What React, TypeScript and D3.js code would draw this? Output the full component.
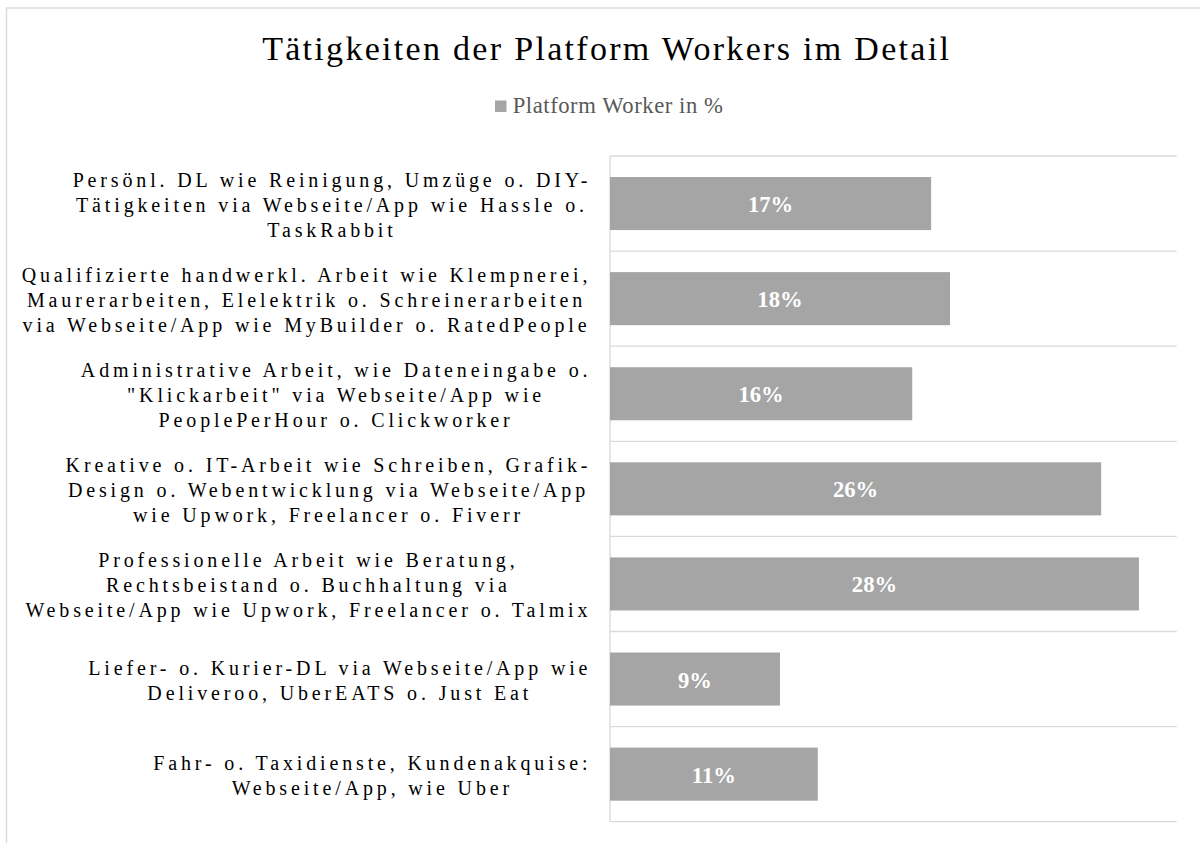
import React, { useEffect, useRef } from "react";
import * as d3 from "d3";

const title = "Tätigkeiten der Platform Workers im Detail";
const legendLabel = "Platform Worker in %";

const categories: string[][] = [
  ["Persönl. DL wie Reinigung, Umzüge o. DIY-", "Tätigkeiten via Webseite/App wie Hassle o.", "TaskRabbit"],
  ["Qualifizierte handwerkl. Arbeit wie Klempnerei,", "Maurerarbeiten, Elelektrik o. Schreinerarbeiten", "via Webseite/App wie MyBuilder o. RatedPeople"],
  ["Administrative Arbeit, wie Dateneingabe o.", "\"Klickarbeit\" via Webseite/App wie", "PeoplePerHour o. Clickworker"],
  ["Kreative o. IT-Arbeit wie Schreiben, Grafik-", "Design o. Webentwicklung via Webseite/App", "wie Upwork, Freelancer o. Fiverr"],
  ["Professionelle Arbeit wie Beratung,", "Rechtsbeistand o. Buchhaltung via", "Webseite/App wie Upwork, Freelancer o. Talmix"],
  ["Liefer- o. Kurier-DL via Webseite/App wie", "Deliveroo, UberEATS o. Just Eat"],
  ["Fahr- o. Taxidienste, Kundenakquise:", "Webseite/App, wie Uber"],
];

const values: number[] = [17, 18, 16, 26, 28, 9, 11];

const xDomain: [number, number] = [0, 30];

const FONT = "'Liberation Serif', 'Times New Roman', Times, serif";

export default function App() {
  const ref = useRef<SVGSVGElement | null>(null);

  useEffect(() => {
    const svg = d3.select(ref.current!);
    svg.selectAll("*").remove();

    const plotLeft = 610;
    const plotRight = 1176.7;
    const plotTop = 156;
    const plotBottom = 821.7;

    const x = d3.scaleLinear().domain(xDomain).range([plotLeft, plotRight]);
    const y = d3
      .scaleBand<number>()
      .domain(d3.range(values.length))
      .range([plotTop, plotBottom])
      .paddingInner(0.442)
      .paddingOuter(0.221);
    const step = y.step();

    // outer border
    svg
      .append("rect")
      .attr("x", 6.5)
      .attr("y", 8)
      .attr("width", 1220)
      .attr("height", 860)
      .attr("fill", "#ffffff")
      .attr("stroke", "#d9d9d9")
      .attr("stroke-width", 1.33);

    // title
    const titleLS = 2.3;
    svg
      .append("text")
      .attr("x", 605.5 + titleLS / 2)
      .attr("y", 60)
      .attr("text-anchor", "middle")
      .attr("font-family", FONT)
      .attr("font-size", 34)
      .attr("letter-spacing", titleLS)
      .attr("fill", "#000000")
      .text(title);

    // legend
    svg
      .append("rect")
      .attr("x", 495)
      .attr("y", 100.5)
      .attr("width", 11.5)
      .attr("height", 11.5)
      .attr("fill", "#a5a5a5");
    svg
      .append("text")
      .attr("x", 512.7)
      .attr("y", 113.3)
      .attr("font-family", FONT)
      .attr("font-size", 22.67)
      .attr("letter-spacing", 0.55)
      .attr("fill", "#595959")
      .text(legendLabel);

    // gridlines at category boundaries
    const bounds = d3.range(values.length + 1).map((i) => plotTop + i * step);
    svg
      .append("g")
      .selectAll("line")
      .data(bounds)
      .join("line")
      .attr("x1", plotLeft)
      .attr("x2", plotRight)
      .attr("y1", (d) => d)
      .attr("y2", (d) => d)
      .attr("stroke", "#d9d9d9")
      .attr("stroke-width", 1.33);

    // axis line
    svg
      .append("line")
      .attr("x1", plotLeft)
      .attr("x2", plotLeft)
      .attr("y1", plotTop)
      .attr("y2", plotBottom)
      .attr("stroke", "#d9d9d9")
      .attr("stroke-width", 1.33);

    // bars
    svg
      .append("g")
      .selectAll("rect")
      .data(values)
      .join("rect")
      .attr("x", x(0))
      .attr("y", (_, i) => y(i)!)
      .attr("width", (d) => x(d) - x(0))
      .attr("height", y.bandwidth())
      .attr("fill", "#a5a5a5");

    // data labels
    svg
      .append("g")
      .selectAll("text")
      .data(values)
      .join("text")
      .attr("x", (d) => (x(0) + x(d)) / 2)
      .attr("y", (_, i) => y(i)! + y.bandwidth() / 2 + 8.5)
      .attr("text-anchor", "middle")
      .attr("font-family", FONT)
      .attr("font-weight", "bold")
      .attr("font-size", 22.67)
      .attr("fill", "#ffffff")
      .text((d) => `${d}%`);

    // category labels
    const ls = 3.85;
    const lineH = 25;
    const rightEdge = 587.5;
    categories.forEach((lines, i) => {
      const cy = y(i)! + y.bandwidth() / 2;
      const g = svg.append("g");
      const texts = lines.map((ln, j) =>
        g
          .append("text")
          .attr("x", 0)
          .attr("y", cy + 8 + (j - (lines.length - 1) / 2) * lineH)
          .attr("font-family", FONT)
          .attr("font-size", 20)
          .attr("letter-spacing", ls)
          .attr("fill", "#000000")
          .text(ln)
      );
      const widths = texts.map((t) => (t.node() as SVGTextElement).getComputedTextLength());
      const maxW = d3.max(widths)!;
      const cx = rightEdge - (maxW - ls) / 2;
      texts.forEach((t, j) => t.attr("x", cx - (widths[j] - ls) / 2));
    });
  }, []);

  return (
    <svg
      ref={ref}
      width={1200}
      height={843}
      style={{ position: "absolute", left: 0, top: 0, display: "block" }}
    />
  );
}
